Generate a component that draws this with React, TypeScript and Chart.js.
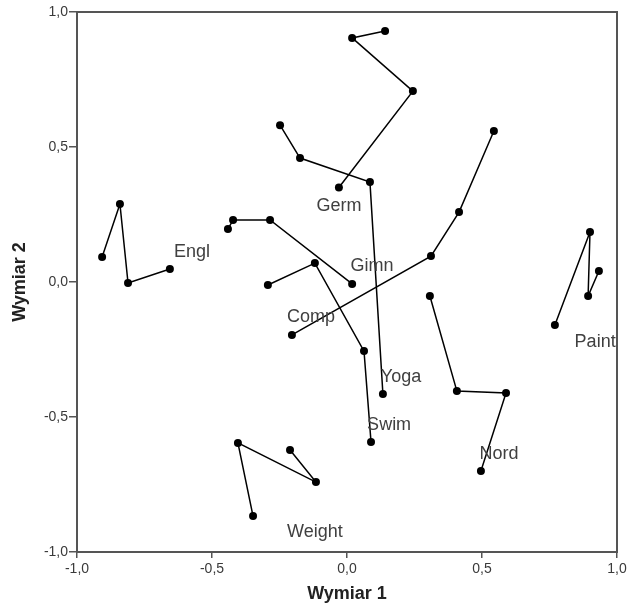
import React, { useEffect, useRef } from "react";
import { Chart, registerables } from "chart.js";

Chart.register(...registerables);

// Trajectory names
const seriesNames = ["Germ", "Yoga", "Engl", "Gimn", "Comp", "Swim", "Nord", "Weight", "Paint"];

// Dimension 1 (x) and Dimension 2 (y) coordinates per trajectory
const germX = [-0.03, 0.244, 0.019, 0.141];
const germY = [0.35, 0.707, 0.904, 0.93];
const yogaX = [-0.248, -0.174, 0.085, 0.133];
const yogaY = [0.581, 0.459, 0.37, -0.415];
const englX = [-0.907, -0.841, -0.811, -0.656];
const englY = [0.093, 0.289, -0.004, 0.048];
const gimnX = [-0.441, -0.422, -0.285, 0.019];
const gimnY = [0.196, 0.23, 0.23, -0.007];
const compX = [-0.204, 0.311, 0.415, 0.544];
const compY = [-0.196, 0.096, 0.259, 0.559];
const swimX = [-0.293, -0.119, 0.063, 0.089];
const swimY = [-0.011, 0.07, -0.256, -0.593];
const nordX = [0.307, 0.407, 0.589, 0.496];
const nordY = [-0.052, -0.404, -0.411, -0.7];
const weightX = [-0.211, -0.115, -0.404, -0.348];
const weightY = [-0.622, -0.741, -0.596, -0.867];
const paintX = [0.77, 0.9, 0.893, 0.933];
const paintY = [-0.159, 0.185, -0.052, 0.041];

const allX = [germX, yogaX, englX, gimnX, compX, swimX, nordX, weightX, paintX];
const allY = [germY, yogaY, englY, gimnY, compY, swimY, nordY, weightY, paintY];

// Label anchor (center) positions in data coordinates
const labelX = [-0.03, 0.2, -0.574, 0.093, -0.133, 0.156, 0.563, -0.119, 0.919];
const labelY = [0.281, -0.352, 0.111, 0.059, -0.13, -0.53, -0.637, -0.926, -0.222];

const tickValues = [-1, -0.5, 0, 0.5, 1];
const axisMin = -1;
const axisMax = 1;

const fmt = (v: number) => v.toFixed(1).replace(".", ",");

const frameColor = "#555555";
const fontFamily = "'Liberation Sans', Arial, sans-serif";

const labelPlugin = {
  id: "seriesLabels",
  afterDatasetsDraw(chart: any) {
    const ctx = chart.ctx;
    const xs = chart.scales.x;
    const ys = chart.scales.y;
    ctx.save();
    ctx.font = "18px " + fontFamily;
    ctx.fillStyle = "#404040";
    ctx.textAlign = "center";
    ctx.textBaseline = "middle";
    seriesNames.forEach((n, i) => {
      ctx.fillText(n, xs.getPixelForValue(labelX[i]), ys.getPixelForValue(labelY[i]));
    });
    ctx.restore();
  },
  afterDraw(chart: any) {
    const { left, top, right, bottom } = chart.chartArea;
    const ctx = chart.ctx;
    ctx.save();
    ctx.strokeStyle = frameColor;
    ctx.lineWidth = 2;
    ctx.strokeRect(left, top, right - left, bottom - top);
    ctx.restore();
  },
};

export default function App() {
  const ref = useRef<HTMLCanvasElement>(null);
  useEffect(() => {
    if (!ref.current) return;
    const datasets = seriesNames.map((name, i) => ({
      label: name,
      data: allX[i].map((x, j) => ({ x, y: allY[i][j] })),
      showLine: true,
      borderColor: "#000000",
      backgroundColor: "#000000",
      borderWidth: 1.5,
      pointRadius: 4,
      pointBackgroundColor: "#000000",
      pointBorderWidth: 0,
      tension: 0,
    }));
    const tickFont = { family: fontFamily, size: 14 };
    const titleFont = { family: fontFamily, size: 18, weight: "bold" as const };
    const chart = new Chart(ref.current, {
      type: "scatter",
      data: { datasets },
      plugins: [labelPlugin],
      options: {
        animation: false,
        responsive: false,
        maintainAspectRatio: false,
        layout: { padding: { top: 12, right: 11, left: 0, bottom: 0 } },
        plugins: { legend: { display: false }, tooltip: { enabled: false } },
        scales: {
          x: {
            type: "linear",
            min: axisMin,
            max: axisMax,
            afterBuildTicks: (s: any) => {
              s.ticks = tickValues.map((v) => ({ value: v }));
            },
            afterFit: (s: any) => {
              s.height = 60;
              s.paddingLeft = 0;
              s.paddingRight = 0;
            },
            ticks: { callback: (v: any) => fmt(Number(v)), color: "#3a3a3a", font: tickFont, padding: 3, maxRotation: 0 },
            grid: { drawOnChartArea: false, drawTicks: true, tickLength: 6, color: frameColor, lineWidth: 1.5 },
            border: { display: true, color: frameColor, width: 2 },
            title: { display: true, text: "Wymiar 1", color: "#222222", font: titleFont, padding: { top: 0, bottom: 7 } },
          },
          y: {
            type: "linear",
            min: axisMin,
            max: axisMax,
            afterBuildTicks: (s: any) => {
              s.ticks = tickValues.map((v) => ({ value: v }));
            },
            afterFit: (s: any) => {
              s.width = 77;
              s.paddingTop = 0;
              s.paddingBottom = 0;
            },
            ticks: { callback: (v: any) => fmt(Number(v)), color: "#3a3a3a", font: tickFont, padding: 1 },
            grid: { drawOnChartArea: false, drawTicks: true, tickLength: 8, color: frameColor, lineWidth: 1.5 },
            border: { display: true, color: frameColor, width: 2 },
            title: { display: true, text: "Wymiar 2", color: "#222222", font: titleFont, padding: { top: 9, bottom: 0 } },
          },
        },
      },
    });
    return () => chart.destroy();
  }, []);
  return (
    <div style={{ position: "absolute", left: 0, top: 0, width: 628, height: 612, background: "#ffffff" }}>
      <canvas ref={ref} width={628} height={612} style={{ width: 628, height: 612, display: "block" }} />
    </div>
  );
}
